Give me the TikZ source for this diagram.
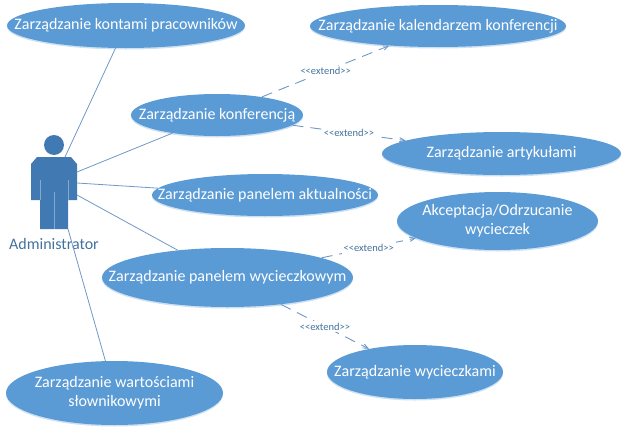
\documentclass[tikz,border=0pt]{standalone}
\usepackage{fontspec}
\setmainfont{Carlito}
\usepackage{tikz}
\usetikzlibrary{arrows,shapes.geometric,shadows}
\definecolor{usecase}{HTML}{5B9BD5}
\definecolor{actorblue}{HTML}{4179B3}
\definecolor{linkblue}{HTML}{6F98C6}
\definecolor{labelblue}{HTML}{44729D}
\newcommand{\extendtext}{{<}{<}extend{>}{>}}
\tikzset{
  usecase/.style={ellipse, fill=usecase, text=white, inner xsep=-60pt, inner ysep=-8pt, align=center, font=\fontsize{16}{19}\selectfont,
    general shadow={shadow xshift=0pt, shadow yshift=-1.5pt, fill=usecase, opacity=0.3}},
  assoc/.style={draw=linkblue, line width=0.8pt},
  extendlink/.style={draw=linkblue, line width=0.9pt, dash pattern=on 11pt off 7pt, ->, >=angle 45},
  extendlabel/.style={fill=white, text=labelblue, inner sep=2pt, font=\fontsize{10.5}{12}\selectfont}
}
\begin{document}
\begin{tikzpicture}[x=1pt,y=-1pt]
  \useasboundingbox (0,0) rectangle (627,434);
  \node (konta) [usecase, minimum width=238pt, minimum height=45pt] at (126,25.5) {Zarządzanie kontami pracowników};
  \node (kalendarz) [usecase, minimum width=256pt, minimum height=42pt] at (438,26) {Zarządzanie kalendarzem konferencji};
  \node (konferencja) [usecase, minimum width=172pt, minimum height=42pt] at (217,115) {Zarządzanie konferencją};
  \node (artykuly) [usecase, minimum width=239pt, minimum height=43pt] at (501.5,153.5) {Zarządzanie artykułami};
  \node (panel) [usecase, minimum width=226pt, minimum height=42pt] at (265,195) {Zarządzanie panelem aktualności};
  \node (akceptacja) [usecase, minimum width=201pt, minimum height=58pt] at (497.5,221) {Akceptacja/Odrzucanie\\wycieczek};
  \node (wycieczkowy) [usecase, minimum width=251pt, minimum height=59pt] at (227.5,277.5) {Zarządzanie panelem wycieczkowym};
  \node (wycieczki) [usecase, minimum width=176pt, minimum height=54pt] at (415,372) {Zarządzanie wycieczkami};
  \node (slowniki) [usecase, minimum width=217pt, minimum height=64pt] at (114.5,393) {Zarządzanie wartościami\\słownikowymi};

  % actor
  \node (head) [circle, fill=actorblue, minimum size=20pt, inner sep=0pt] at (54,145) {};
  \fill[actorblue] (37,157) -- (71,157) -- (77,164) -- (77,200) -- (68,200) -- (68,229)
    -- (40,229) -- (40,200) -- (31,200) -- (31,164) -- cycle;
  \draw[white!35!actorblue, line width=0.5pt] (40,180) -- (40,200) (68,180) -- (68,200) (54,192) -- (54,229);
  \node (admin) [text=labelblue, inner sep=0pt, font=\fontsize{16}{19}\selectfont] at (54,244) {Administrator};
  \coordinate (neck) at (65,157);
  \coordinate (armtop) at (77,172);
  \coordinate (armmid) at (77,183);
  \coordinate (armlow) at (77,195);
  \coordinate (leg) at (68,229);

  \path[assoc]
  (neck) edge (konta)
  (armtop) edge (konferencja)
  (armmid) edge (panel)
  (armlow) edge (wycieczkowy)
  (leg) edge (slowniki)
  ;
  \path[extendlink]
  (konferencja) edge node [extendlabel] {\extendtext} (kalendarz)
  (konferencja) edge node [extendlabel] {\extendtext} (artykuly)
  (wycieczkowy) edge node [extendlabel] {\extendtext} (akceptacja)
  (wycieczkowy) edge node [extendlabel] {\extendtext} (wycieczki)
  ;
\end{tikzpicture}
\end{document}
